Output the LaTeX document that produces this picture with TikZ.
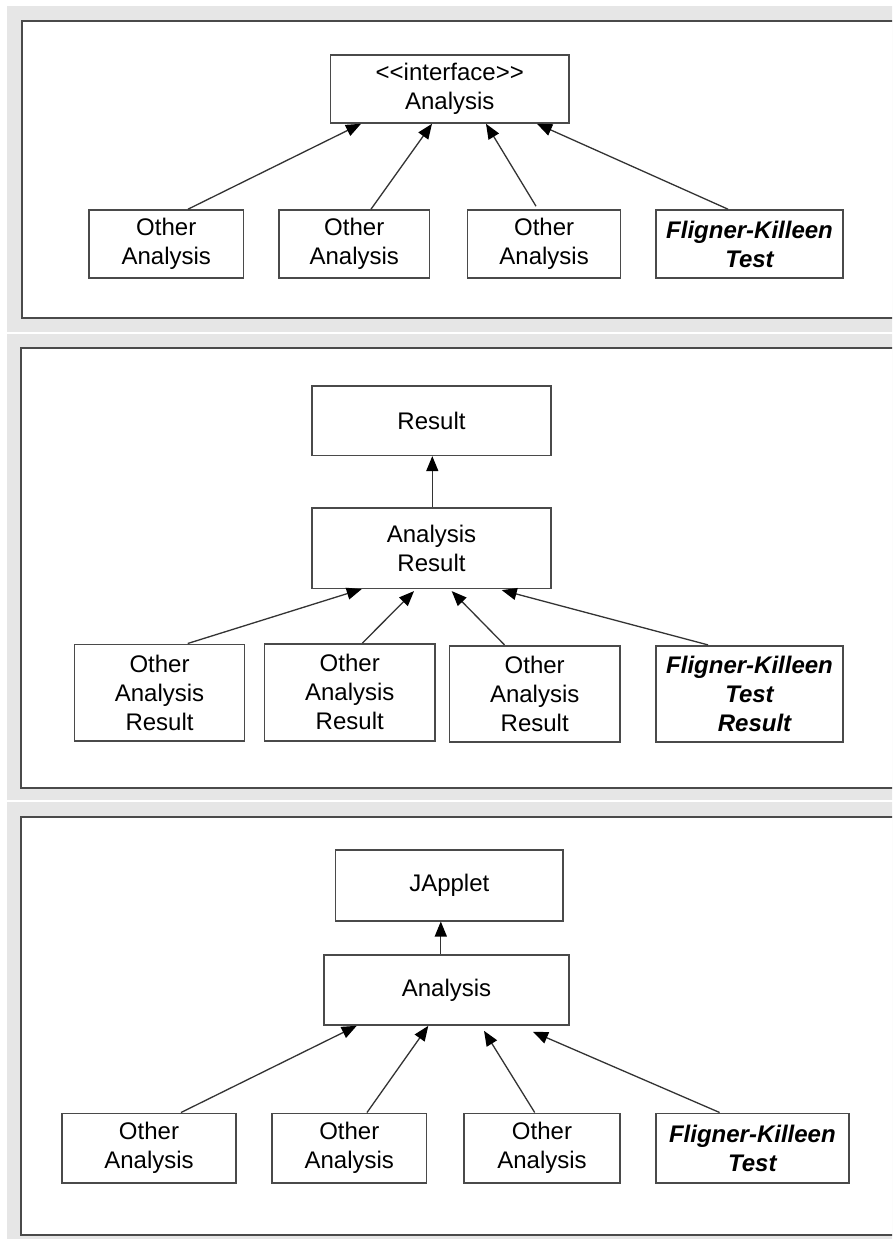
\documentclass[tikz,border=0pt]{standalone}
\usepackage{fontspec}
\setmainfont{Liberation Sans}
\usetikzlibrary{arrows.meta}
\definecolor{framegrey}{HTML}{E6E6E6}
\definecolor{linegrey}{HTML}{4A4A4A}
\definecolor{arrgrey}{HTML}{333333}
\begin{document}
\begin{tikzpicture}[x=1pt,y=-1pt,
  panelbg/.style={fill=framegrey,draw=none},
  panelbox/.style={fill=white,draw=linegrey,line width=2pt},
  umlbox/.style={draw=linegrey,fill=white,line width=1.6pt,rectangle,inner sep=0pt,align=center,
    font=\fontsize{24}{29}\selectfont},
  fkbox/.style={umlbox,font=\fontsize{24}{29}\selectfont\bfseries\itshape},
  inherit/.style={draw=arrgrey,line width=1.3pt,-{Triangle[length=15pt,width=12pt,fill=black,color=black]}}]
\useasboundingbox (0,0) rectangle (892,1239);
\clip (0,0) rectangle (892,1239);
\fill[white] (0,0) rectangle (892,1239);
% panel frames
\path[panelbg] (7,6) rectangle (900,332);
\path[panelbg] (7,334) rectangle (900,800);
\path[panelbg] (7,802) rectangle (900,1245);
\path[panelbox] (22,21) rectangle (900,317.5);
\path[panelbox] (21,348) rectangle (900,787.5);
\path[panelbox] (21,816.7) rectangle (900,1235);

% ---------- panel 1 ----------
\node[umlbox,minimum width=238.5pt,minimum height=68pt] (ia) at (449.75,89) {<{}<interface>{}>\\Analysis};
\node[umlbox,minimum width=154.5pt,minimum height=68pt] (oa1) at (166.25,244) {Other\\Analysis};
\node[umlbox,minimum width=150.5pt,minimum height=68pt] (oa2) at (354.25,244) {Other\\Analysis};
\node[umlbox,minimum width=153pt,minimum height=68pt] (oa3) at (544.1,244) {Other\\Analysis};
\node[fkbox,minimum width=187pt,minimum height=68pt] (fk1) at (749.5,244) {Fligner-Killeen\\Test};
\draw[inherit] ([xshift=21.75pt]oa1.north) -- ([xshift=-88.75pt]ia.south);
\draw[inherit] ([xshift=16.75pt]oa2.north) -- ([xshift=-17.75pt]ia.south);
\draw[inherit] ([xshift=-8.1pt,yshift=3pt]oa3.north) -- ([xshift=36.25pt]ia.south);
\draw[inherit] ([xshift=-21.5pt]fk1.north) -- ([xshift=87.25pt]ia.south);

% ---------- panel 2 ----------
\node[umlbox,minimum width=239pt,minimum height=69.3pt] (res) at (431.5,420.65) {Result};
\node[umlbox,minimum width=239pt,minimum height=80.6pt] (ar) at (431.5,548) {Analysis\\Result};
\node[umlbox,minimum width=170.1pt,minimum height=96.4pt] (oar1) at (159.55,692.5) {Other\\Analysis\\Result};
\node[umlbox,minimum width=170.5pt,minimum height=96.7pt] (oar2) at (349.75,692.35) {Other\\Analysis\\Result};
\node[umlbox,minimum width=170.6pt,minimum height=96.3pt] (oar3) at (534.7,693.85) {Other\\Analysis\\Result};
\node[fkbox,minimum width=187pt,minimum height=96.3pt] (fkr) at (749.5,693.85) {Fligner-Killeen\\Test\\\hspace*{10pt}Result};
\draw[inherit] ([xshift=0.8pt]ar.north) -- ([xshift=0.8pt]res.south);
\draw[inherit] ([xshift=28.15pt]oar1.north) -- ([xshift=-69.8pt]ar.south);
\draw[inherit] ([xshift=12.55pt]oar2.north) -- ([xshift=-17.5pt,yshift=-2pt]ar.south);
\draw[inherit] ([xshift=-30.2pt]oar3.north) -- ([xshift=20.2pt,yshift=-2pt]ar.south);
\draw[inherit] ([xshift=-41.5pt]fkr.north) -- ([xshift=70.2pt,yshift=-1pt]ar.south);

% ---------- panel 3 ----------
\node[umlbox,minimum width=227.4pt,minimum height=70.7pt] (ja) at (449.3,885.35) {JApplet};
\node[umlbox,minimum width=245pt,minimum height=70.3pt] (an) at (446.5,989.85) {Analysis};
\node[umlbox,minimum width=174pt,minimum height=69.4pt] (ob1) at (149,1148) {Other\\Analysis};
\node[umlbox,minimum width=154.6pt,minimum height=69.4pt] (ob2) at (349.3,1148) {Other\\Analysis};
\node[umlbox,minimum width=156pt,minimum height=69.4pt] (ob3) at (542,1148) {Other\\Analysis};
\node[fkbox,minimum width=192.7pt,minimum height=69.4pt] (fk3) at (752.35,1148) {Fligner-Killeen\\Test};
\draw[inherit] ([xshift=-5.7pt]an.north) -- ([xshift=-8.5pt]ja.south);
\draw[inherit] ([xshift=32pt]ob1.north) -- ([xshift=-89.8pt]an.south);
\draw[inherit] ([xshift=17.7pt]ob2.north) -- ([xshift=-18.2pt]an.south);
\draw[inherit] ([xshift=-7.3pt]ob3.north) -- ([xshift=37.5pt,yshift=-5pt]an.south);
\draw[inherit] ([xshift=-32.75pt]fk3.north) -- ([xshift=86.5pt,yshift=-6pt]an.south);
\end{tikzpicture}
\end{document}
